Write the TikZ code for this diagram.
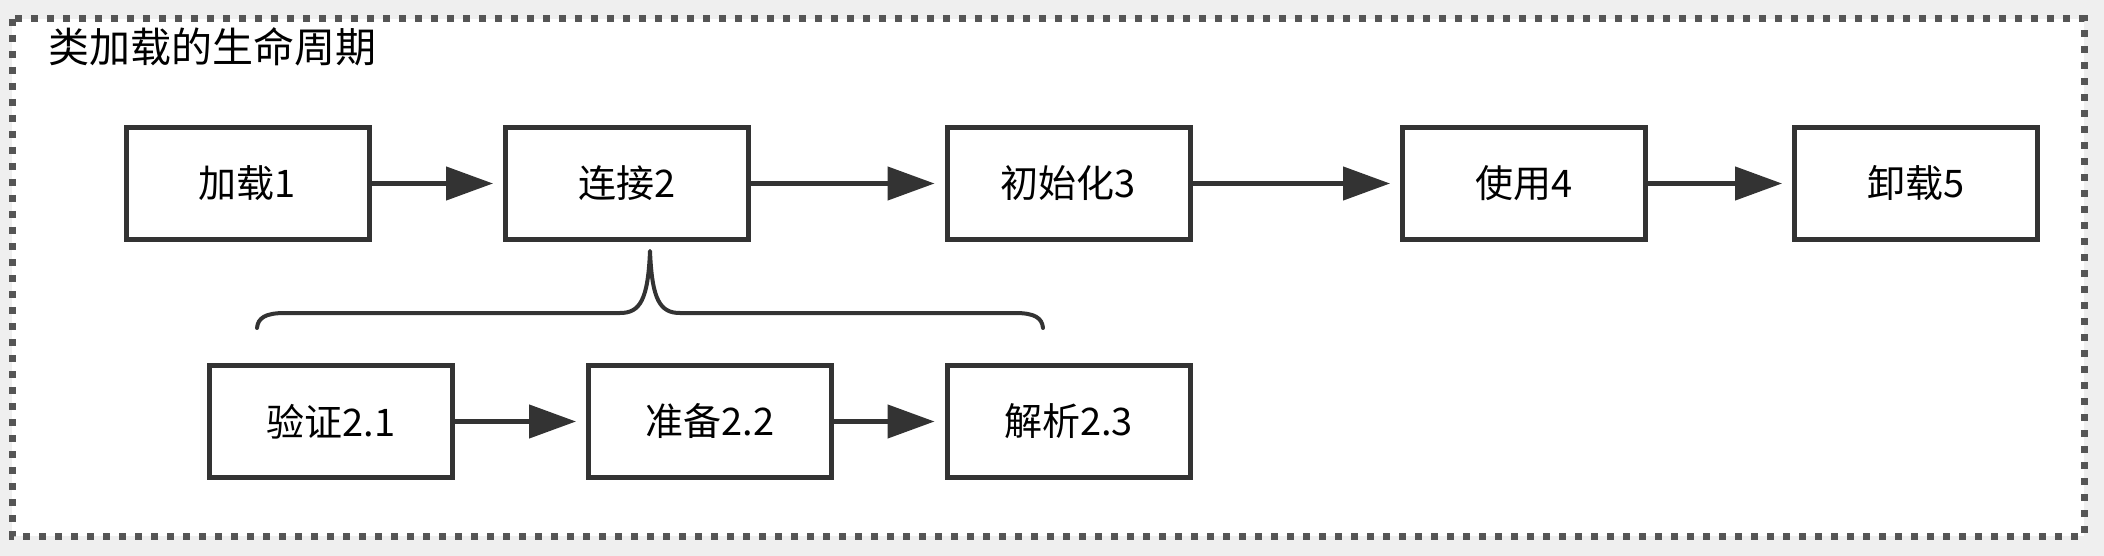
\documentclass[tikz,border=0pt]{standalone}
\usepackage{fontspec}
\setmainfont{Noto Sans CJK SC}
\usetikzlibrary{arrows.meta}
\definecolor{ink}{HTML}{333333}
\definecolor{dotc}{HTML}{555555}
\definecolor{bg}{HTML}{EFEFEF}
\tikzset{
  stagebox/.style={draw=ink, line width=5pt, fill=white, minimum width=243pt, minimum height=112pt, inner sep=0pt, font=\fontsize{38}{40}\selectfont},
  flow/.style={draw=ink, line width=4.5pt, -{Triangle[length=47pt,width=33pt]}, shorten >=10pt},
  bracepath/.style={draw=ink, line width=4pt, line cap=round, line join=round},
  frame/.style={draw=dotc, line width=7pt, dash pattern=on 7pt off 9pt, fill=white}
}
\begin{document}
\begin{tikzpicture}[x=1pt,y=-1pt]
\fill[bg] (0,0) rectangle (2104,556);
\useasboundingbox (0,0) rectangle (2104,556);
\draw[frame] (12,19) rectangle (2084,536);
\node[anchor=base west, inner sep=0pt, font=\fontsize{41}{44}\selectfont] (title) at (48,63) {类加载的生命周期};
\node[stagebox] (a1) at (247.5,183.5) {加载1};
\node[stagebox] (a2) at (627,183.5) {连接2};
\node[stagebox] (a3) at (1068.5,183.5) {初始化3};
\node[stagebox] (a4) at (1524,183.5) {使用4};
\node[stagebox] (a5) at (1916,183.5) {卸载5};
\node[stagebox] (b1) at (331,421.5) {验证2.1};
\node[stagebox] (b2) at (710,421.5) {准备2.2};
\node[stagebox] (b3) at (1068.5,421.5) {解析2.3};
\draw[flow] (a1) -- (a2);
\draw[flow] (a2) -- (a3);
\draw[flow] (a3) -- (a4);
\draw[flow] (a4) -- (a5);
\draw[flow] (b1) -- (b2);
\draw[flow] (b2) -- (b3);
\draw[bracepath] (257,328) .. controls (258,318) and (265,313) .. (285,313) -- (620,313) .. controls (640,313) and (648,300) .. (650,251) .. controls (652,300) and (660,313) .. (680,313) -- (1015,313) .. controls (1035,313) and (1042,318) .. (1043,328);
\end{tikzpicture}
\end{document}
